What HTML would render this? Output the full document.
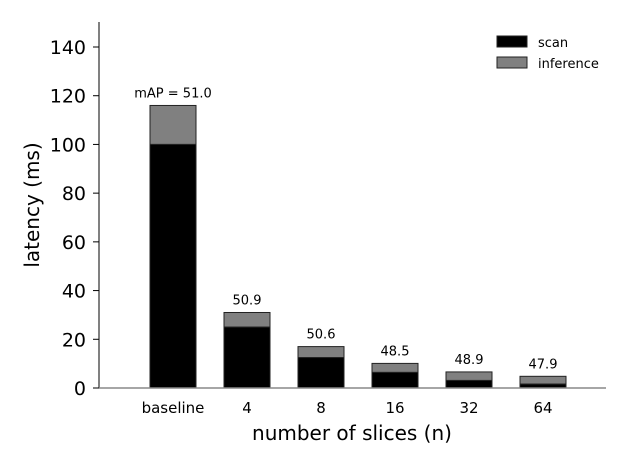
<!DOCTYPE html>
<html><head><meta charset="utf-8"><style>
body{margin:0;background:#fff}
svg text{font-family:"DejaVu Sans","Liberation Sans",sans-serif;fill:#000}
</style></head><body>
<svg width="641" height="468">
<g id="plot"></g>
</svg>
<script>
const categories=["baseline","4","8","16","32","64"];
const scanValues=[100,25,12.5,6.4,3.1,1.6];
const totalValues=[116,31,17,10.1,6.6,4.8];
const mapLabels=["mAP = 51.0","50.9","50.6","48.5","48.9","47.9"];
const yTicks=[0,20,40,60,80,100,120,140];
const NS="http://www.w3.org/2000/svg";
const g=document.getElementById("plot");
const y0=388,pxPer=(388-47)/140;
const yScale=v=>y0-v*pxPer;
const xScale=i=>173+i*74;
const bw=46;
function el(t,a,txt){const e=document.createElementNS(NS,t);for(const k in a)e.setAttribute(k,a[k]);if(txt!==undefined)e.textContent=txt;g.appendChild(e);return e;}
yTicks.forEach(t=>{
 const e=el("text",{x:86,y:yScale(t)+7,"text-anchor":"end","font-size":19},t);
 
 
 const l=el("line",{x1:93,x2:99,y1:yScale(t),y2:yScale(t),stroke:"#000"});
 
 
});
categories.forEach((c,i)=>{
 const cx=xScale(i);
 const inf=el("rect",{x:cx-bw/2,y:yScale(totalValues[i]),width:bw,height:yScale(scanValues[i])-yScale(totalValues[i]),fill:"#808080",stroke:"#222","stroke-width":1});
 
 
 const sc=el("rect",{x:cx-bw/2,y:yScale(scanValues[i]),width:bw,height:y0-yScale(scanValues[i]),fill:"#000",stroke:"#222","stroke-width":1});
 
 
 const lb=el("text",{x:cx,y:yScale(totalValues[i])-8,"text-anchor":"middle","font-size":13},mapLabels[i]);
 
 
 const xl=el("text",{x:cx,y:413,"text-anchor":"middle","font-size":15},c);
 
 
});
const ya=el("line",{x1:99,x2:99,y1:22,y2:388,stroke:"#000"});


const xa=el("line",{x1:99,x2:606,y1:388,y2:388,stroke:"#888","stroke-width":1.5});


const xt=el("text",{x:352,y:440,"text-anchor":"middle","font-size":20},"number of slices (n)");


const yt=el("text",{x:0,y:0,"text-anchor":"middle","font-size":20,transform:"translate(39,205) rotate(-90)"},"latency (ms)");


[["scan","#000",42],["inference","#808080",63]].forEach(([n,c,y])=>{
 const r=el("rect",{x:497,y:y-6,width:30,height:11,fill:c,stroke:"#222"});
 
 
 const t=el("text",{x:538,y:y+5,"font-size":13},n);
 
 
});
</script>
</body></html>
